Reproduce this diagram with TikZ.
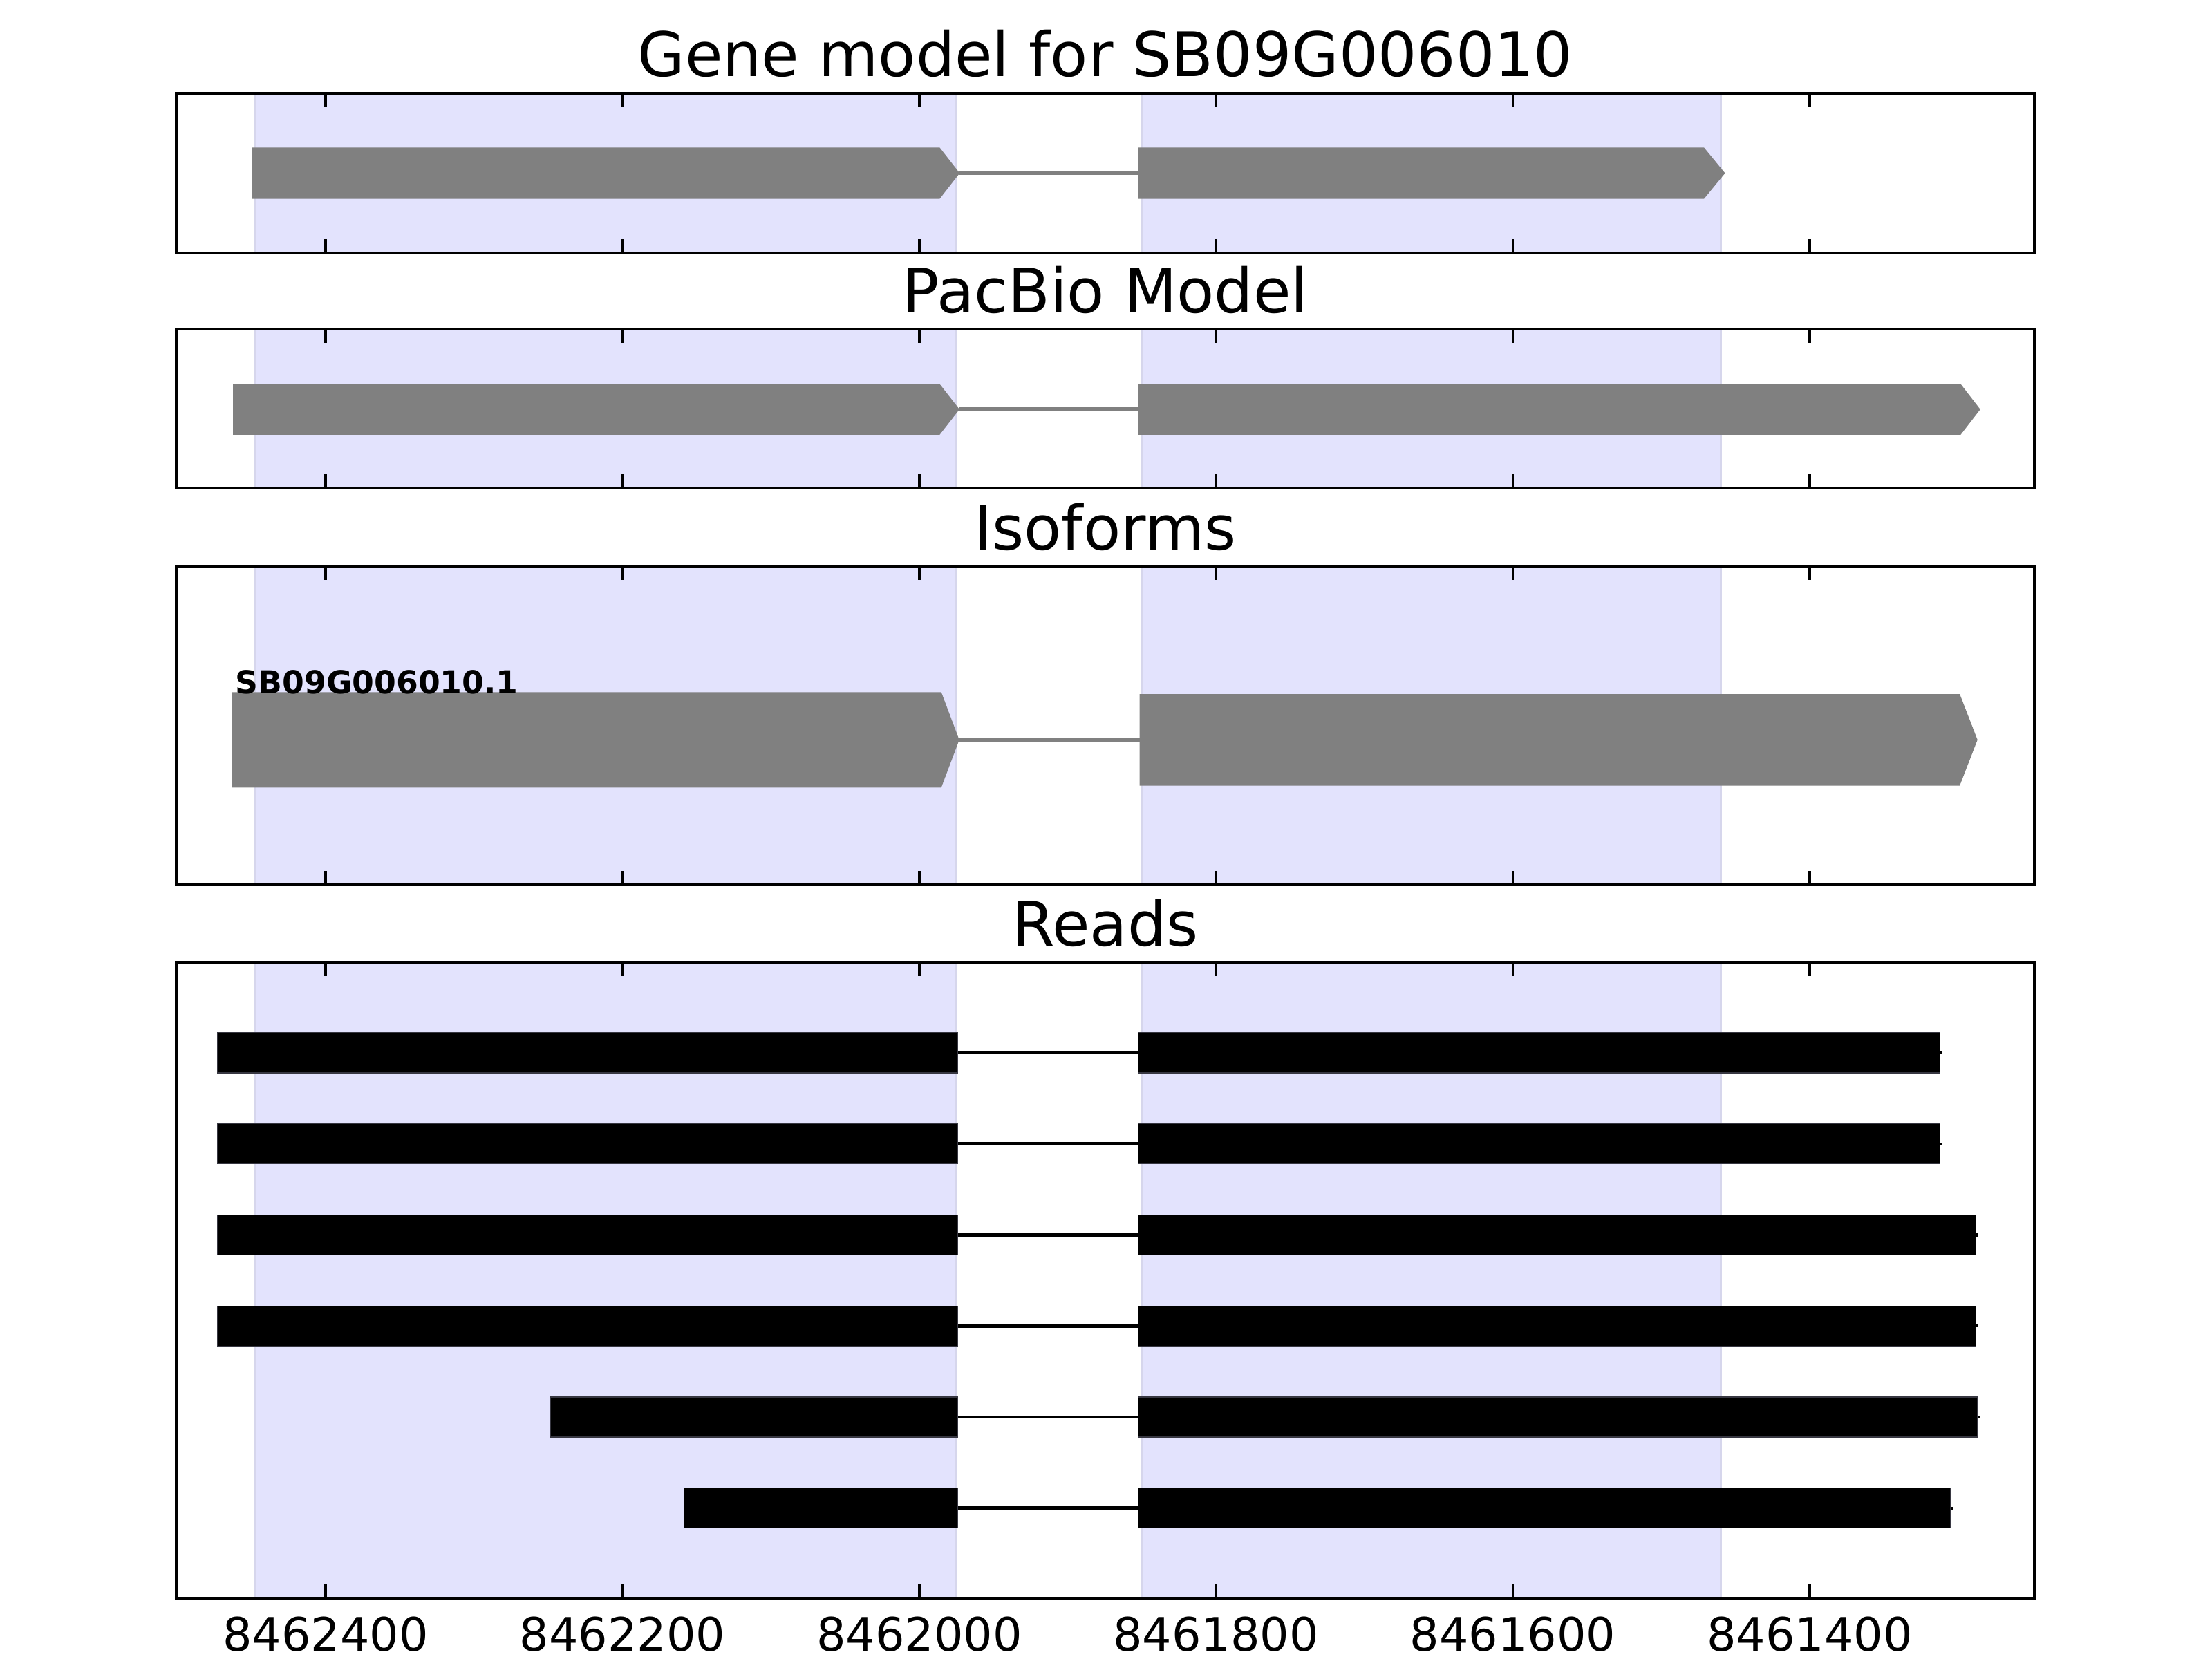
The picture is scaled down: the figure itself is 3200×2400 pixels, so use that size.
\documentclass[tikz,border=0pt]{standalone}
\usepackage{fontspec}
\setmainfont{DejaVu Sans}
\definecolor{spanfill}{RGB}{227,227,253}
\definecolor{spanedge}{RGB}{214,214,236}
\definecolor{exongray}{RGB}{128,128,128}
\definecolor{readedge}{RGB}{55,55,65}
\newcommand\myspans[2]{%
  \filldraw[spanfill, draw=spanedge, line width=0.8pt] (369.5,#1) rectangle (1383.3,#2);
  \filldraw[spanfill, draw=spanedge, line width=0.8pt] (1651.7,#1) rectangle (2489.7,#2);
}
\newcommand\myframe[2]{%
  \draw[line width=1.4pt] (255,#1) rectangle (2943,#2);
  \foreach \tx in {471.2,900.5,1329.9,1759.2,2188.6,2617.9}{
    \draw[line width=1pt] (\tx,#1) -- (\tx,#1+20);
    \draw[line width=1pt] (\tx,#2) -- (\tx,#2-20);
  }
}
% x-left, x-straight-end, x-tip, y-top, y-bottom
\newcommand\myexon[5]{%
  \fill[exongray] (#1,#4) -- (#2,#4) -- (#3,{(#4+#5)/2}) -- (#2,#5) -- (#1,#5) -- cycle;
}
% y-center, left1, left2... : left of block1, right of block2
\newcommand\myread[3]{%
  \draw[black, line width=1.4pt] (1385.7,#1) -- (1646.7,#1);
  \draw[black, line width=1.2pt] (#3-4,#1) -- (#3+3,#1);
  \filldraw[black, draw=readedge, line width=0.3pt] (#2,#1-29) rectangle (1385.7,#1+29);
  \filldraw[black, draw=readedge, line width=0.3pt] (1646.7,#1-29) rectangle (#3,#1+29);
}
\begin{document}
\begin{tikzpicture}[x=0.01cm,y=-0.01cm,
  titletext/.style={anchor=base, font=\fontsize{25.2}{30}\selectfont},
  ticktext/.style={anchor=base, font=\fontsize{19}{23}\selectfont},
  isolabel/.style={anchor=base west, inner sep=0pt, font=\fontsize{13}{16}\selectfont\bfseries},
  intronline/.style={exongray, line width=1.5pt}]
\useasboundingbox (0,0) rectangle (3200,2400);
\fill[white] (0,0) rectangle (3200,2400);

% ---------- Panel 1: Gene model ----------
\node[titletext] (t1) at (1599,111) {Gene model for SB09G006010};
\myspans{135}{366}
\draw[intronline] (1388.3,250.5) -- (1646.7,250.5);
\myexon{364}{1359.3}{1388.3}{213.3}{287.7}
\myexon{1646.7}{2465}{2495.5}{213.3}{287.7}
\myframe{135}{366}

% ---------- Panel 2: PacBio ----------
\node[titletext] (t2) at (1599,452) {PacBio Model};
\myspans{476}{706}
\draw[intronline] (1388,592) -- (1647,592);
\myexon{337}{1359}{1388}{555}{629.3}
\myexon{1647}{2836}{2864.7}{555}{629.3}
\myframe{476}{706}

% ---------- Panel 3: Isoforms ----------
\node[titletext] (t3) at (1599,795) {Isoforms};
\myspans{819}{1280}
\draw[intronline] (1387.7,1070) -- (1648.7,1070);
\myexon{336}{1361.7}{1387.7}{1001.3}{1139.3}
\myexon{1648.7}{2835}{2860.7}{1004}{1136.5}
\node[isolabel] (iso) at (340,1003) {SB09G006010.1};
\myframe{819}{1280}

% ---------- Panel 4: Reads ----------
\node[titletext] (t4) at (1599,1368) {Reads};
\myspans{1392}{2312}
\myread{1523}{315}{2806.7}
\myread{1654.75}{315}{2806.7}
\myread{1786.5}{315}{2858.7}
\myread{1918.25}{315}{2858.7}
\myread{2050}{796.3}{2860.7}
\myread{2181.75}{989.3}{2821.7}
\myframe{1392}{2312}

% ---------- tick labels ----------
\node[ticktext] (l1) at (471.2,2388) {8462400};
\node[ticktext] (l2) at (900.5,2388) {8462200};
\node[ticktext] (l3) at (1329.9,2388) {8462000};
\node[ticktext] (l4) at (1759.2,2388) {8461800};
\node[ticktext] (l5) at (2188.6,2388) {8461600};
\node[ticktext] (l6) at (2617.9,2388) {8461400};
\end{tikzpicture}
\end{document}
